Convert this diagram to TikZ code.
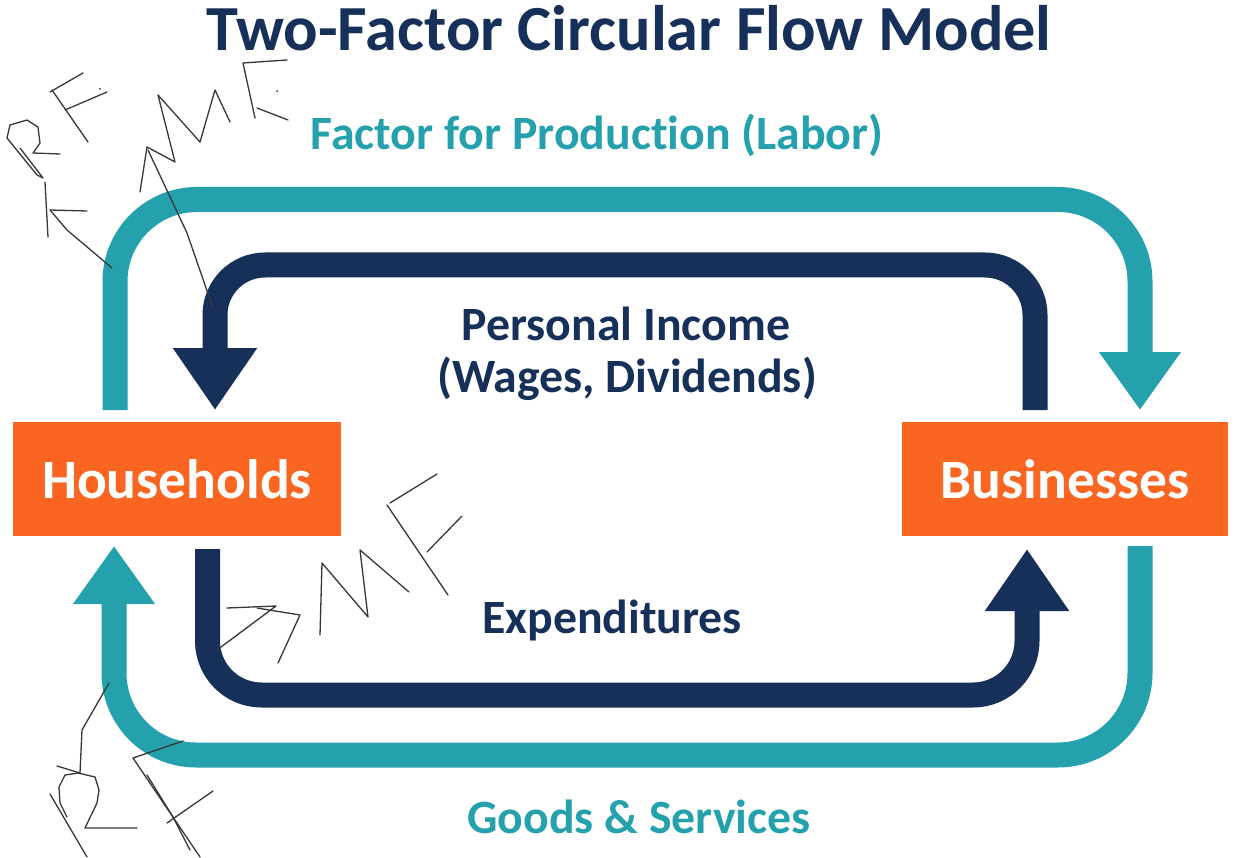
\documentclass[tikz,border=0pt]{standalone}
\usepackage{fontspec}
\setmainfont{Carlito}[RawFeature={-liga;-clig;-calt;-dlig}]
\usetikzlibrary{arrows.meta}
\definecolor{navy}{RGB}{23,48,90}
\definecolor{teal}{RGB}{37,161,173}
\definecolor{orng}{RGB}{251,101,34}
\definecolor{pen}{RGB}{55,55,55}
\tikzset{
  box/.style={fill=orng, draw=none, text=white, font=\fontsize{55.5}{60}\selectfont\bfseries, inner sep=0pt},
  lbl/.style={font=\fontsize{47.8}{52}\selectfont\bfseries, inner sep=0pt, anchor=base},
  band/.style={line width=25pt, line cap=butt, line join=round},
  tealband/.style={band, draw=teal, -{Triangle[width=78pt,length=58pt]}},
  navyband/.style={band, draw=navy, -{Triangle[width=80pt,length=62pt]}},
  scribble/.style={draw=pen, line width=1.3pt, line cap=round, line join=round},
}
\begin{document}
\begin{tikzpicture}[x=1pt,y=-1pt]
\useasboundingbox (0,0) rectangle (1238,858);
\fill[white] (0,0) rectangle (1238,858);

% title and labels
\node[lbl, text=navy, font=\fontsize{64.3}{68}\selectfont\bfseries] (title) at (629,51) {Two-Factor Circular Flow Model};
\node[lbl, text=teal] (labor) at (597,150) {Factor for Produc\kern0pt tion (Labor)};
\node[lbl, text=navy] (pi1) at (626,340) {Personal Income};
\node[lbl, text=navy] (pi2) at (627,392) {(Wages, Dividends)};
\node[lbl, text=navy] (exp) at (612,633) {Expenditures};
\node[lbl, text=teal] (goods) at (639,833) {Goods \& Services};

% boxes
\node[box, minimum width=328pt, minimum height=114pt] (H) at (177,479) {Households};
\node[box, minimum width=326pt, minimum height=114pt] (B) at (1065,479) {Businesses};

% connector end points
\coordinate (t1s) at (115,410);
\coordinate (t1e) at (1140,410);
\coordinate (n1s) at (1035,410);
\coordinate (n1e) at (215,410);
\coordinate (n2s) at (207.5,549);
\coordinate (n2e) at (1027,549);
\coordinate (t2s) at (1140,546);
\coordinate (t2e) at (114,546);

% flows
\draw[tealband, rounded corners=82pt] (t1s) |- (627,199.5) -| (t1e);
\draw[navyband, rounded corners=50pt] (n1s) |- (627,265) -| (n1e);
\draw[navyband, rounded corners=54pt] (n2s) |- (627,695) -| (n2e);
\draw[tealband, rounded corners=82pt] (t2s) |- (627,755) -| (t2e);

% handwritten scribbles
% R (top left)
\draw[scribble] (20,148) -- (43,178) -- (37,175) -- (7,138) -- (10,125) -- (27,120) -- (38,127) -- (40,143) -- (33,153) -- (60,154);
% F (top left)
\draw[scribble] (88,142) -- (52,90);
\draw[scribble] (50,92) -- (83,73);
\draw[scribble] (65,110) -- (107,92);
\fill[pen] (100,89) circle (1pt);
% arrow-like mark below R
\draw[scribble] (48,237) -- (45,182);
\draw[scribble] (50,210) -- (87,211);
\draw[scribble] (50,210) -- (67,230) -- (112,268);
% M (top)
\draw[scribble] (140,192) -- (147,147) -- (175,162) -- (158,95) -- (200,142) -- (215,90) -- (230,122);
\draw[scribble] (148,150) -- (187,233) -- (213,308);
% R (top)
\draw[scribble] (255,118) -- (243,63) -- (287,60);
\draw[scribble] (257,108) -- (288,120);
\fill[pen] (277,91) circle (1pt);
% mark below households
\draw[scribble] (227,608) -- (276,606) -- (217,650);
\draw[scribble] (257,608) -- (300,615) -- (278,663);
% M (middle)
\draw[scribble] (320,635) -- (322,563) -- (368,617) -- (360,550) -- (409,592);
% F (middle)
\draw[scribble] (387,505) -- (448,595);
\draw[scribble] (390,503) -- (437,474);
\draw[scribble] (427,552) -- (462,516);
% bottom left marks
\draw[scribble] (109,683) -- (82,730) -- (80,773);
\draw[scribble] (57,766) -- (80,773);
\draw[scribble] (78,773) -- (65,775) -- (59,787) -- (60,803) -- (67,817);
\draw[scribble] (78,773) -- (95,777) -- (99,790) -- (97,803) -- (85,828) -- (137,828);
\draw[scribble] (50,794) -- (87,857);
\draw[scribble] (183,741) -- (133,758) -- (200,857);
\draw[scribble] (147,775) -- (173,817) -- (190,850);
\draw[scribble] (167,823) -- (213,791);
\end{tikzpicture}
\end{document}
